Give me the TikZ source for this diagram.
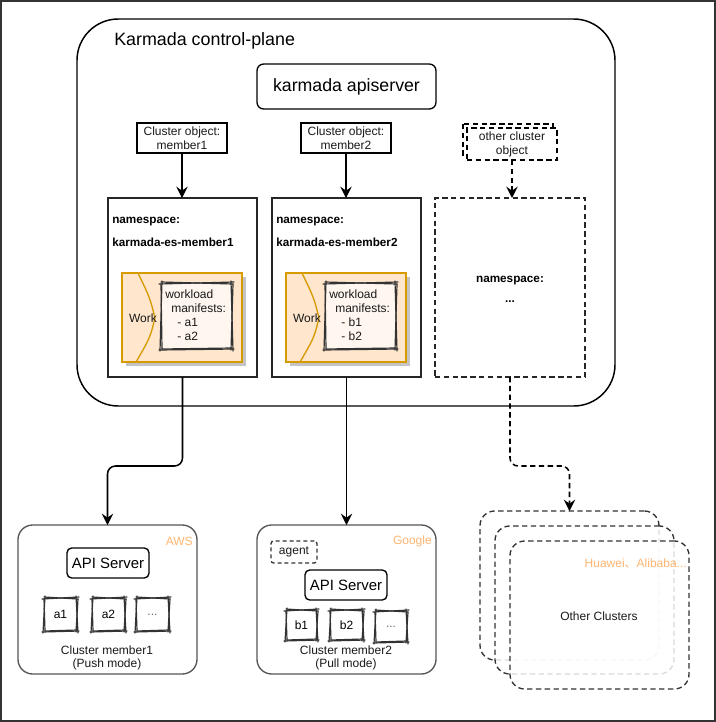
\documentclass[tikz,border=0pt]{standalone}
\usepackage{fontspec}
\setmainfont{Liberation Sans}
\newfontfamily\cjkfont{Noto Sans CJK SC}
\usetikzlibrary{arrows.meta,calc}
\definecolor{framec}{HTML}{333333}
\definecolor{workfill}{HTML}{FFE6CC}
\definecolor{workline}{HTML}{D79B00}
\definecolor{orangetxt}{HTML}{FFB570}
\definecolor{skfill}{HTML}{FFF7EF}
\definecolor{shadowc}{HTML}{C4C4C4}
\definecolor{graybox}{HTML}{555555}
\newcommand\bx[7][]{\node[#1, inner sep=0pt, outer sep=0pt, minimum width={(#5-#3)*0.75pt}, minimum height={(#6-#4)*0.75pt}] (#2) at ({(#3+#5)/2},{(#4+#6)/2}) {#7};}
\newcommand\skbox[1]{%
 \draw[sk] ($(#1.north west)+(-2,1)$) -- ($(#1.north east)+(2,-1)$);
 \draw[sk] ($(#1.north west)+(0,-1)$) -- ($(#1.north east)+(1,1)$);
 \draw[sk] ($(#1.north east)+(-1,-2)$) -- ($(#1.south east)+(1,2)$);
 \draw[sk] ($(#1.north east)+(1,1)$) -- ($(#1.south east)+(-1,1)$);
 \draw[sk] ($(#1.south east)+(2,0)$) -- ($(#1.south west)+(-2,1)$);
 \draw[sk] ($(#1.south east)+(0,-1)$) -- ($(#1.south west)+(1,0)$);
 \draw[sk] ($(#1.south west)+(-1,2)$) -- ($(#1.north west)+(1,-2)$);
 \draw[sk] ($(#1.south west)+(1,0)$) -- ($(#1.north west)+(0,1)$);
}
\tikzset{
 sk/.style={draw=framec, line width=0.9pt, line cap=round},
 txt/.style={font=\fontsize{9pt}{10.5pt}\selectfont, text=black!90},
 nsb/.style={font=\fontsize{8.8pt}{10pt}\selectfont\bfseries, inner sep=0pt},
 arr/.style={-{Stealth[length=8.5pt,width=8.5pt,inset=3pt]}, line width=1.15pt, draw=black},
 dsh/.style={dash pattern=on 4pt off 2.6pt},
 orangelbl/.style={font=\fontsize{9pt}{10.5pt}\selectfont, text=orangetxt, inner sep=0pt},
 clbox/.style={draw=graybox, line width=1pt, rounded corners=11pt},
 apibox/.style={draw=black, line width=1pt, rounded corners=3.5pt, font=\fontsize{11.2pt}{13pt}\selectfont},
 skn/.style={font=\fontsize{9pt}{10.5pt}\selectfont},
 ocl/.style={draw=framec, line width=1pt, dsh, rounded corners=11pt},
}
\begin{document}
\begin{tikzpicture}[x=0.75pt,y=-0.75pt]
\path[use as bounding box] (0,0) rectangle (716,722);
\draw[framec, line width=1.2pt] (0.8,0.8) rectangle (715.2,721.2);

% control plane
\bx[draw=black, line width=1.1pt, rounded corners=31pt]{cp}{77}{19}{615}{406}{}
\node[anchor=west, inner sep=0pt, font=\fontsize{13.4pt}{16pt}\selectfont] (cptitle) at (114,41) {Karmada control-plane};
\bx[draw=black, line width=1pt, rounded corners=5pt, font=\fontsize{13.3pt}{16pt}\selectfont]{api}{257}{64}{436}{109}{karmada apiserver}

% cluster objects
\bx[draw=black, line width=1pt, txt, align=center]{co1}{137}{123}{227}{153}{Cluster object:\\member1}
\bx[draw=black, line width=1pt, txt, align=center]{co2}{301}{123}{391}{153}{Cluster object:\\member2}
\draw[draw=black, line width=1pt, dsh] (463,124) rectangle (553,156);
\bx[draw=black, line width=1pt, dsh, fill=white, txt, align=center]{co3}{467}{128}{557}{160}{other cluster\\object}

% namespaces
\bx[draw=black!85, line width=1.1pt]{ns1}{108}{198}{257}{377}{}
\node[nsb, anchor=west] (ns1a) at (112,222) {namespace:};
\node[nsb, anchor=west] (ns1b) at (112,242) {karmada-es-member1};
\bx[draw=black!85, line width=1.1pt]{ns2}{272}{198}{421}{377}{}
\node[nsb, anchor=west] (ns2a) at (276,222) {namespace:};
\node[nsb, anchor=west] (ns2b) at (276,242) {karmada-es-member2};
\bx[draw=black!85, line width=1.1pt, dsh]{ns3}{435}{198}{585}{377}{}
\node[nsb] (ns3a) at (510,281) {namespace:};
\node[nsb] (ns3b) at (510,302) {...};

% work 1
\fill[shadowc] (126,277) rectangle (246,366);
\bx[draw=workline, fill=workfill, line width=1pt]{w1}{122}{273}{242}{362}{}
\draw[workline, line width=1pt] (138,273) .. controls (150,298) .. (155,318) .. controls (150,338) .. (136,362);
\node[txt, inner sep=0pt] (wk1) at (143,318) {Work};
\bx[fill=skfill]{m1}{161}{283}{232}{349}{}
\skbox{m1}
\node[txt, anchor=north west, align=left, inner sep=0pt, font=\fontsize{9pt}{10.3pt}\selectfont] (mt1) at (165,290) {workload\\\hspace*{4.5pt}manifests:\\\hspace*{9pt}- a1\\\hspace*{9pt}- a2};

% work 2
\fill[shadowc] (290,277) rectangle (410,366);
\bx[draw=workline, fill=workfill, line width=1pt]{w2}{286}{273}{406}{362}{}
\draw[workline, line width=1pt] (302,273) .. controls (314,298) .. (319,318) .. controls (314,338) .. (300,362);
\node[txt, inner sep=0pt] (wk2) at (307,318) {Work};
\bx[fill=skfill]{m2}{325}{283}{396}{349}{}
\skbox{m2}
\node[txt, anchor=north west, align=left, inner sep=0pt, font=\fontsize{9pt}{10.3pt}\selectfont] (mt2) at (329,290) {workload\\\hspace*{4.5pt}manifests:\\\hspace*{9pt}- b1\\\hspace*{9pt}- b2};

% cluster member1
\bx[clbox]{c1}{18}{525}{197}{674}{}
\node[orangelbl, anchor=east] (aws) at (193,541) {AWS};
\bx[apibox]{as1}{67}{548}{149}{578}{API Server}
\bx[skn]{a1}{44}{598}{77}{631}{a1}\skbox{a1}
\bx[skn]{a2}{92}{598}{125}{631}{a2}\skbox{a2}
\bx[skn, text=black!60]{a3}{136}{598}{169}{631}{...}\skbox{a3}
\node[txt, align=center, inner sep=0pt, font=\fontsize{9pt}{9.5pt}\selectfont] (c1l) at (107,658) {Cluster member1\\(Push mode)};

% cluster member2
\bx[clbox]{c2}{257}{525}{436}{674}{}
\node[orangelbl, anchor=east] (ggl) at (432,541) {Google};
\bx[draw=framec, line width=1pt, dash pattern=on 3pt off 2.2pt, rounded corners=2pt, txt]{agent}{271}{541}{317}{563}{agent}
\bx[apibox]{as2}{305}{570}{387}{600}{API Server}
\bx[skn]{b1}{286}{610}{317}{640}{b1}\skbox{b1}
\bx[skn]{b2}{330}{610}{363}{640}{b2}\skbox{b2}
\bx[skn, text=black!60]{b3}{375}{611}{407}{642}{...}\skbox{b3}
\node[txt, align=center, inner sep=0pt, font=\fontsize{9pt}{9.5pt}\selectfont] (c2l) at (346,658) {Cluster member2\\(Pull mode)};

% other clusters
\bx[ocl]{oc1}{480}{511}{659}{660}{}
\bx[ocl, fill=white, fill opacity=0.82]{oc2}{495}{526}{674}{674}{}
\bx[ocl, fill=white, fill opacity=0.82]{oc3}{510}{541}{689}{689}{}
\node[orangelbl, anchor=east] (hw) at (687,563) {Huawei{\cjkfont 、}Alibaba...};
\node[txt, inner sep=0pt] (ocl) at (599,616) {Other Clusters};

% connectors
\draw[arr] (co1.south) -- (co1.south |- ns1.north);
\draw[arr] (co2.south) -- (co2.south |- ns2.north);
\draw[arr, dsh] (co3.south) -- (co3.south |- ns3.north);
\draw[arr, rounded corners=6pt] (ns1.south) -- ++(0,89) -| (c1.north);
\draw[arr] (ns2.south) -- (c2.north);
\draw[arr, dsh, rounded corners=6pt] (ns3.south) -- ++(0,89) -| (oc1.north);
\end{tikzpicture}
\end{document}
